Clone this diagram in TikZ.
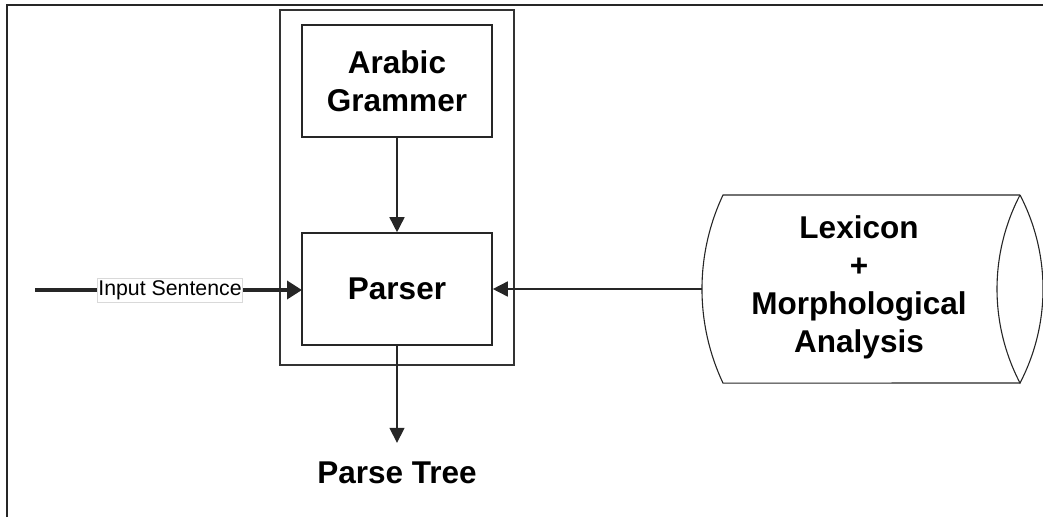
\documentclass[tikz,border=0pt]{standalone}
\usepackage{fontspec}
\setmainfont{Liberation Sans}
\usetikzlibrary{positioning,arrows.meta}

\tikzset{
  block/.style={draw=black!85, line width=1.6pt, minimum width=190pt, minimum height=112pt,
    align=center, font=\fontsize{31.5}{38}\selectfont\bfseries},
  arr/.style={draw=black!85, line width=1.6pt, -{Triangle[length=15pt,width=15pt]}},
  title/.style={align=center, font=\fontsize{31.5}{38}\selectfont\bfseries},
}

\begin{document}
\begin{tikzpicture}[x=1pt,y=-1pt]
\useasboundingbox (0,0) rectangle (1043,517);
% frame
\draw[line width=1.6pt, black!85] (7,517) -- (7,5) -- (1043,5);
% outer box and blocks
\node[draw=black!80, line width=1.6pt, minimum width=234pt, minimum height=355pt] (outer) at (397,187.5) {};
\node[block] (grammar) at (397,81) {Arabic\\Grammer};
\node[block] (parser) at (397,289) {Parser};
% lexicon store
\draw[black!85, line width=1.1pt] (1020,195) -- (723,195) arc[start angle=205.2, end angle=154.8, radius=220.9] -- (1020,383);
\draw[black!85, line width=1.1pt] (1020,195) arc[start angle=207.5, end angle=152.5, radius=203.6]
  arc[start angle=27.5, end angle=-27.5, radius=203.6];
\coordinate (lexin) at (702,289);
\node[title] (lex) at (859,287.5) {Lexicon\\+\\Morphological\\Analysis};
% input
\coordinate (insrc) at (35,290);
\draw[arr, line width=3.5pt, -{Triangle[length=15pt,width=18pt]}] (insrc) -- (302,290);
\node[draw=black!15, fill=white, inner sep=1pt, minimum height=24pt, font=\fontsize{21.3}{24}\selectfont] (inlabel) at (170,290) {Input Sentence};
% connectors
\draw[arr] (grammar) -- (parser);
\draw[arr] (lexin) -- (parser);
\coordinate[below=97pt of parser] (treetip);
\draw[arr] (parser) -- (treetip);
\node[title, below=19pt of treetip, inner sep=0pt] (tree) {Parse Tree};
\end{tikzpicture}
\end{document}
